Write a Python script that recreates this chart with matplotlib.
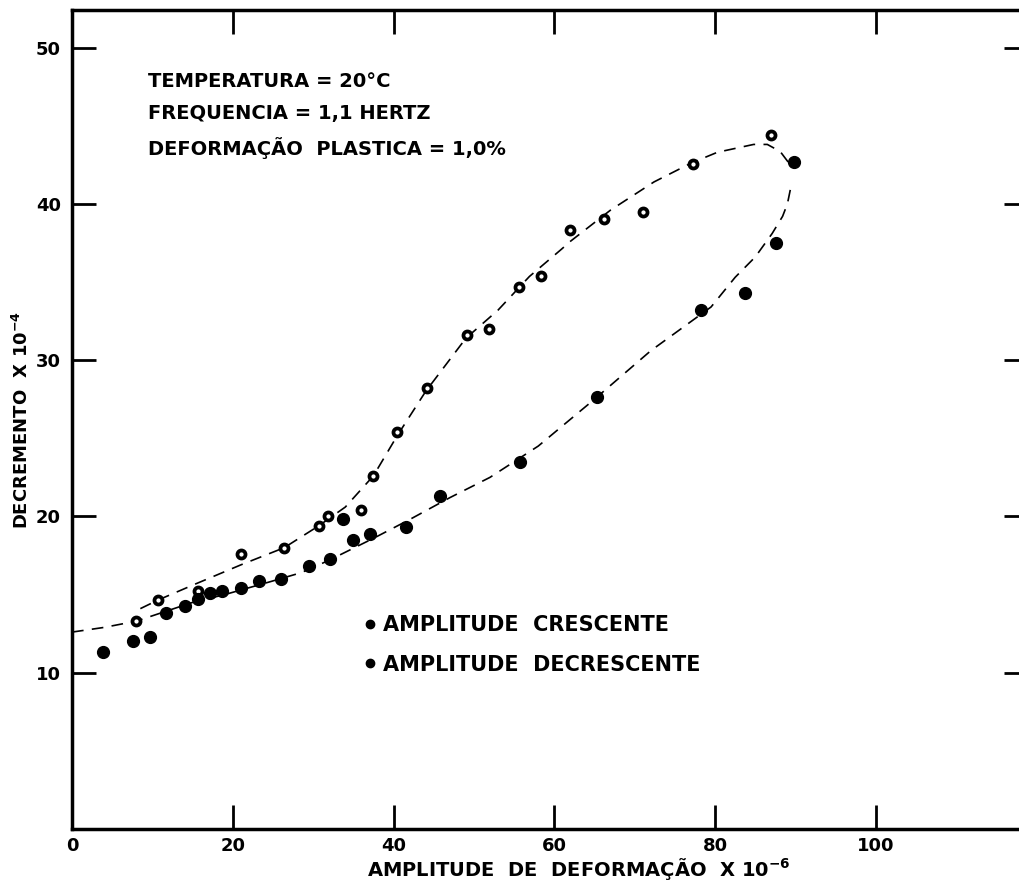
import matplotlib
matplotlib.use("Agg")
import matplotlib.pyplot as plt
from matplotlib.lines import Line2D

plt.rcParams['font.family'] = ['DejaVu Sans']
plt.rcParams['font.weight'] = 'bold'

# amplitude crescente (open circles)
x_cres = [8.0, 10.7, 15.65, 21.0, 26.4, 30.7, 31.9, 35.9, 37.5, 40.4,
          44.2, 49.1, 51.9, 55.6, 58.3, 61.9, 66.2, 71.0, 77.2, 86.9]
y_cres = [13.3, 14.65, 15.2, 17.6, 18.0, 19.4, 20.0, 20.4, 22.6, 25.4,
          28.2, 31.6, 32.0, 34.7, 35.4, 38.3, 39.0, 39.5, 42.55, 44.4]

# amplitude decrescente (filled dots)
x_decr = [3.9, 7.6, 9.7, 11.65, 14.0, 15.65, 17.2, 18.7, 21.0, 23.3, 26.0,
          29.5, 32.05, 33.7, 35.0, 37.05, 41.5, 45.8, 55.7, 65.3, 78.2,
          83.7, 87.6, 89.8]
y_decr = [11.35, 12.0, 12.3, 13.85, 14.25, 14.7, 15.1, 15.2, 15.4, 15.9, 16.0,
          16.8, 17.3, 19.85, 18.5, 18.9, 19.35, 21.3, 23.5, 27.65, 33.2,
          34.3, 37.5, 42.7]

# hand drawn curves
cx_cres = [8.5, 10.7, 15, 21, 26.4, 30.7, 34, 37.5, 40.5, 44, 49, 53, 56.9,
           60.9, 62, 67, 72.4, 77, 80.3, 84.8, 86.5, 88.1, 89.2]
cy_cres = [14.1, 14.65, 15.6, 16.9, 18.0, 19.4, 20.6, 22.6, 25.2, 28.0, 31.4,
           33.2, 35.35, 37.1, 37.6, 39.6, 41.4, 42.6, 43.3, 43.8, 43.8, 43.35, 42.6]
cx_decr = [0, 4, 8, 11.5, 15, 19, 24.5, 28.5, 32, 37.5, 42, 47, 52, 58, 65,
           72, 79.5, 82.5, 85, 87.1, 88.4, 89, 89.4]
cy_decr = [12.6, 12.9, 13.3, 13.9, 14.5, 15.0, 15.8, 16.4, 17.2, 18.6, 19.8,
           21.2, 22.5, 24.5, 27.5, 30.6, 33.4, 35.3, 36.6, 38.1, 39.2, 40.0, 41.0]

xticks = [0, 20, 40, 60, 80, 100]
yticks = [10, 20, 30, 40, 50]

fig = plt.figure(figsize=(10.2, 8.86), dpi=100)
ax = fig.add_axes([0.0706, 0.0643, 0.937, 0.9244])

ax.plot(cx_cres, cy_cres, color='black', lw=1.2, dashes=(7, 5))
ax.plot(cx_decr, cy_decr, color='black', lw=1.2, dashes=(7, 5))
ax.plot(x_cres, y_cres, 'o', ms=5.8, mfc='white', mec='black', mew=2.7)
ax.plot(x_decr, y_decr, 'o', ms=8.5, color='black')

ax.set_xlim(0, 118.9)
ax.set_ylim(0, 52.4)
ax.set_xticks(xticks)
ax.set_yticks(yticks)
ax.tick_params(axis='both', direction='in', length=17, width=2,
               labelsize=13, top=True, right=True)
ax.tick_params(axis='y', pad=8)
ax.tick_params(axis='x', pad=6)
for s in ax.spines.values():
    s.set_linewidth(2.5)

ax.set_xlabel('AMPLITUDE  DE  DEFORMAÇÃO  X 10$^{\\mathbf{-6}}$', fontsize=14,
              fontweight='bold')
ax.xaxis.set_label_coords(0.53, -0.033)
ax.set_ylabel('DECREMENTO  X 10$^{\\mathbf{-4}}$', fontsize=13, fontweight='bold')
ax.yaxis.set_label_coords(-0.042, 0.5)

ax.text(9.4, 47.8, 'TEMPERATURA = 20°C', fontsize=14, fontweight='bold', va='center')
ax.text(9.4, 45.75, 'FREQUENCIA = 1,1 HERTZ', fontsize=14, fontweight='bold', va='center')
ax.text(9.4, 43.6, 'DEFORMAÇÃO  PLASTICA = 1,0%', fontsize=14, fontweight='bold', va='center')

handles = [Line2D([], [], marker='o', ls='', color='black', ms=6),
           Line2D([], [], marker='o', ls='', color='black', ms=6)]
ax.legend(handles, ['AMPLITUDE  CRESCENTE', 'AMPLITUDE  DECRESCENTE'],
          loc='upper left', bbox_to_anchor=(36.3, 13.7),
          bbox_transform=ax.transData, frameon=False, fontsize=15,
          handlelength=0.6, handletextpad=0.3, labelspacing=0.95,
          borderpad=0, borderaxespad=0)

fig.savefig('out.png', dpi=100)
